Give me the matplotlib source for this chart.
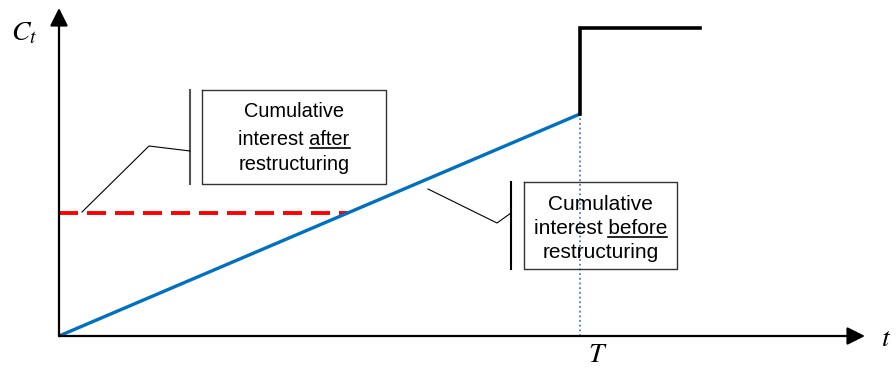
import matplotlib
matplotlib.use('Agg')
import matplotlib.pyplot as plt

# values in units where T = 1 and C(T) before restructuring = 1
T = 1.0
t_before = [0.0, 1.0]
c_before = [0.0, 1.0]
t_after = [0.0, 0.554]
c_after = [0.554, 0.554]
t_jump = [1.0, 1.0, 1.23]
c_jump = [1.0, 1.387, 1.387]
t_max = 1.547
c_max = 1.4775

label_after = ['Cumulative', 'interest after', 'restructuring']
label_before = ['Cumulative', 'interest before', 'restructuring']
underlined = ['after', 'before']

plt.rcParams['font.family'] = ['Liberation Sans', 'DejaVu Sans']
plt.rcParams['mathtext.fontset'] = 'stix'

fig = plt.figure(figsize=(8.96, 3.69), dpi=100)
ax = fig.add_axes([59/896, 33/369, 806/896, 328/369])
ax.set_xlim(0, t_max)
ax.set_ylim(0, c_max)
ax.axis('off')


def px(x, y):
    # picture pixel -> data coords (origin at 59,336; 521 px per T, 222 px per C)
    return (x - 59) / 521, (336 - y) / 222


# axes with arrows
arrow = dict(arrowstyle='-|>,head_length=0.4,head_width=0.2', mutation_scale=27,
             lw=1.6, color='black', shrinkA=0, shrinkB=0)
ax.annotate('', xy=(t_max, 0), xytext=(0, 0), arrowprops=arrow, annotation_clip=False)
ax.annotate('', xy=(0, c_max), xytext=(0, 0), arrowprops=arrow, annotation_clip=False)

# series
ax.plot([T, T], [0, c_before[-1]], color='#4a7bc8', lw=1.3, ls=(0, (1, 1.6)), clip_on=False)
ax.plot(t_after, c_after, color='#ff0000', lw=2.8, ls=(0, (4.9, 2.3)), clip_on=False)
ax.plot(t_before, c_before, color='#0070c0', lw=2.4, solid_capstyle='butt', clip_on=False)
ax.plot(t_jump, c_jump, color='black', lw=2.6, solid_joinstyle='miter', clip_on=False)

# axis labels
ax.text(*px(24, 33), r'$C_t$', fontsize=20, ha='center', va='center')
ax.text(*px(886, 339), r'$t$', fontsize=20, ha='center', va='center')
ax.text(*px(598, 355), r'$T$', fontsize=20, ha='center', va='center')

renderer = fig.canvas.get_renderer()


def callout(lines, word, box, bar_x, leader, baselines, cx, size, bar_color):
    x0, y0, x1, y1 = box
    xs, ys = zip(*[px(x, y) for x, y in [(x0, y0), (x1, y0), (x1, y1), (x0, y1), (x0, y0)]])
    ax.plot(xs, ys, color='#333333', lw=1.0, clip_on=False)
    bx, by = zip(px(bar_x, y0), px(bar_x, y1))
    ax.plot(bx, by, color=bar_color, lw=1.5, clip_on=False)
    lx, ly = zip(*[px(x, y) for x, y in leader])
    ax.plot(lx, ly, color='black', lw=0.8, clip_on=False)
    for line, yb in zip(lines, baselines):
        txt = ax.text(*px(cx, yb), line, fontsize=size, ha='center', va='baseline')
        if line.endswith(word):
            w_full = txt.get_window_extent(renderer).width
            tmp = ax.text(0, 0, word, fontsize=size)
            w_word = tmp.get_window_extent(renderer).width
            tmp.remove()
            ux, uy = zip(px(cx + w_full/2 - w_word, yb + 3), px(cx + w_full/2, yb + 3))
            ax.plot(ux, uy, color='black', lw=1.2, clip_on=False)


callout(label_after, underlined[0], (202, 90, 386, 184), 190,
        [(190, 151), (149, 146), (82, 212)], [117, 145, 170], 294, 14.4, '#555555')
callout(label_before, underlined[1], (524, 182, 677, 269), 511,
        [(511, 213), (497, 223), (428, 189)], [210, 234, 258], 600.5, 15.0, 'black')

fig.savefig('out.png', dpi=100)
